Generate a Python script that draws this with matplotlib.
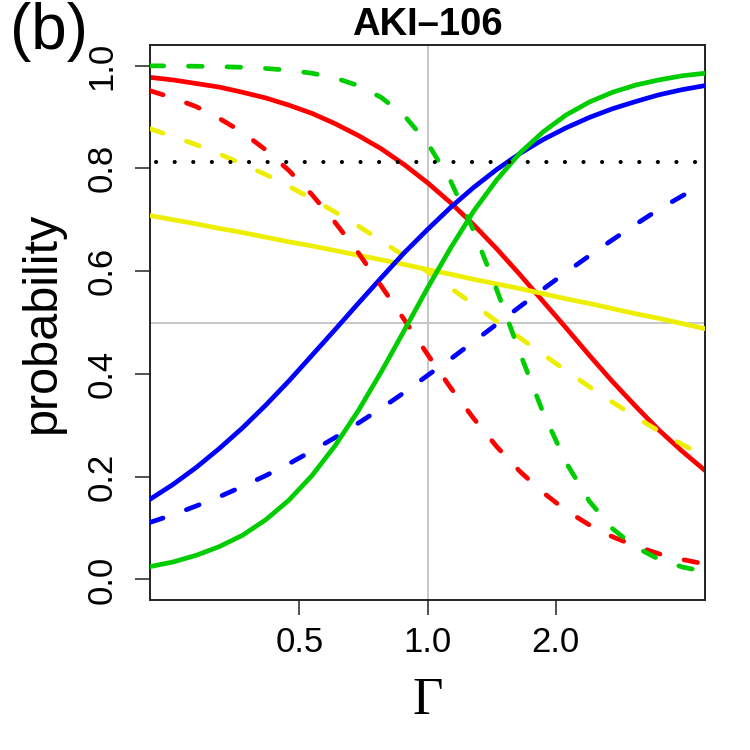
import numpy as np
import matplotlib
matplotlib.use("Agg")
import matplotlib.pyplot as plt

# Gamma grid (log spacing, read positions)
gamma = [0.2231, 0.2528, 0.2865, 0.3247, 0.3679, 0.4169, 0.4724, 0.5353,
         0.6065, 0.6873, 0.7788, 0.8825, 1.0, 1.1331, 1.2840, 1.4550,
         1.6487, 1.8682, 2.1170, 2.3989, 2.7183, 3.0802, 3.4903, 3.9551,
         4.4817]

red_solid = [0.977, 0.972, 0.965, 0.958, 0.948, 0.937, 0.923, 0.907, 0.887,
             0.864, 0.838, 0.807, 0.772, 0.733, 0.690, 0.643, 0.593, 0.541,
             0.489, 0.436, 0.385, 0.337, 0.291, 0.250, 0.212]
red_dashed = [0.951, 0.937, 0.920, 0.897, 0.870, 0.836, 0.796, 0.749, 0.695,
              0.636, 0.571, 0.505, 0.438, 0.373, 0.313, 0.258, 0.210, 0.169,
              0.134, 0.106, 0.083, 0.065, 0.050, 0.039, 0.030]
green_solid = [0.025, 0.034, 0.047, 0.064, 0.086, 0.116, 0.154, 0.202, 0.260,
               0.328, 0.404, 0.485, 0.567, 0.645, 0.717, 0.778, 0.830, 0.871,
               0.904, 0.929, 0.948, 0.962, 0.972, 0.980, 0.985]
green_dashed = [0.9995, 0.9992, 0.9987, 0.9979, 0.9966, 0.9944, 0.9909,
                0.9851, 0.9759, 0.9611, 0.9379, 0.9023, 0.8494, 0.7752,
                0.6781, 0.5629, 0.4403, 0.3246, 0.2270, 0.1521, 0.0988,
                0.0628, 0.0394, 0.0244, 0.0151]
blue_solid = [0.156, 0.185, 0.218, 0.255, 0.295, 0.339, 0.386, 0.436, 0.486,
              0.537, 0.587, 0.636, 0.681, 0.724, 0.763, 0.798, 0.829, 0.856,
              0.879, 0.899, 0.916, 0.930, 0.943, 0.953, 0.961]
blue_dashed = [0.111, 0.126, 0.143, 0.161, 0.181, 0.202, 0.225, 0.250, 0.276,
               0.304, 0.333, 0.364, 0.397, 0.429, 0.463, 0.497, 0.531, 0.565,
               0.598, 0.630, 0.661, 0.691, 0.720, 0.746, 0.771]
yellow_solid = [0.708, 0.700, 0.692, 0.683, 0.675, 0.666, 0.657, 0.649,
                0.640, 0.631, 0.622, 0.613, 0.603, 0.594, 0.584, 0.575,
                0.566, 0.556, 0.546, 0.537, 0.527, 0.517, 0.508, 0.498, 0.488]
yellow_dashed = [0.877, 0.862, 0.846, 0.828, 0.808, 0.788, 0.765, 0.741,
                 0.715, 0.688, 0.659, 0.629, 0.599, 0.567, 0.535, 0.502,
                 0.470, 0.438, 0.406, 0.375, 0.345, 0.316, 0.289, 0.263, 0.239]
dotted_level = 0.812

x_ticks = [0.5, 1.0, 2.0]
x_ticklabels = ["0.5", "1.0", "2.0"]
y_ticks = [0.0, 0.2, 0.4, 0.6, 0.8, 1.0]
y_ticklabels = ["0.0", "0.2", "0.4", "0.6", "0.8", "1.0"]

RED = "#FF0000"
GREEN = "#00CD00"
BLUE = "#0000FF"
YELLOW = "#EEEE00"

plt.rcParams["font.family"] = ["Liberation Sans", "DejaVu Sans"]

fig = plt.figure(figsize=(7.5, 7.5), dpi=100)
ax = fig.add_axes([0.2, 0.2, 0.74, 0.74])

lw = 3.4
dash = (2.9, 5.25)

# reference lines
ax.axvline(1.0, color="#BEBEBE", lw=1.2, zorder=1)
ax.axhline(0.5, color="#BEBEBE", lw=1.2, zorder=1)

def solid(y, c, z):
    ax.plot(gamma, y, color=c, lw=lw, solid_capstyle="round", zorder=z)

def dashed(y, c, z):
    ax.plot(gamma, y, color=c, lw=lw, linestyle=(0, dash),
            dash_capstyle="round", zorder=z)

solid(red_solid, RED, 2)
solid(yellow_solid, YELLOW, 3)
dashed(yellow_dashed, YELLOW, 4)
solid(blue_solid, BLUE, 5)
dashed(blue_dashed, BLUE, 6)
dashed(red_dashed, RED, 7)
solid(green_solid, GREEN, 8)
dashed(green_dashed, GREEN, 9)

ax.plot([gamma[0], gamma[-1]], [dotted_level, dotted_level], color="black",
        lw=3.0, linestyle=(3.0, (0.01, 4.45)), dash_capstyle="round", zorder=10)

ax.set_xscale("log")
ax.set_xlim(gamma[0], gamma[-1])
ax.set_ylim(-0.04, 1.04)

ax.set_xticks(x_ticks)
ax.set_xticklabels(x_ticklabels)
ax.xaxis.set_minor_locator(matplotlib.ticker.NullLocator())
ax.set_yticks(y_ticks)
ax.set_yticklabels(y_ticklabels, rotation=90, va="center")

ax.tick_params(axis="both", direction="out", length=10.8, width=1.1,
               labelsize=25, color="#222222")
ax.tick_params(axis="x", pad=8)
ax.tick_params(axis="y", pad=12)

for s in ax.spines.values():
    s.set_linewidth(1.4)
    s.set_color("#222222")

ax.set_title("AKI\u2013106", fontsize=27.5, fontweight="bold", pad=7)
ax.set_ylabel("probability", fontsize=35, labelpad=15)
ax.set_xlabel("\u0393", fontsize=38, family=["Liberation Serif", "DejaVu Serif"],
              labelpad=13)

fig.text(0.013, 0.997, "(b)", fontsize=46, ha="left", va="top")

fig.savefig("out.png", dpi=100)
